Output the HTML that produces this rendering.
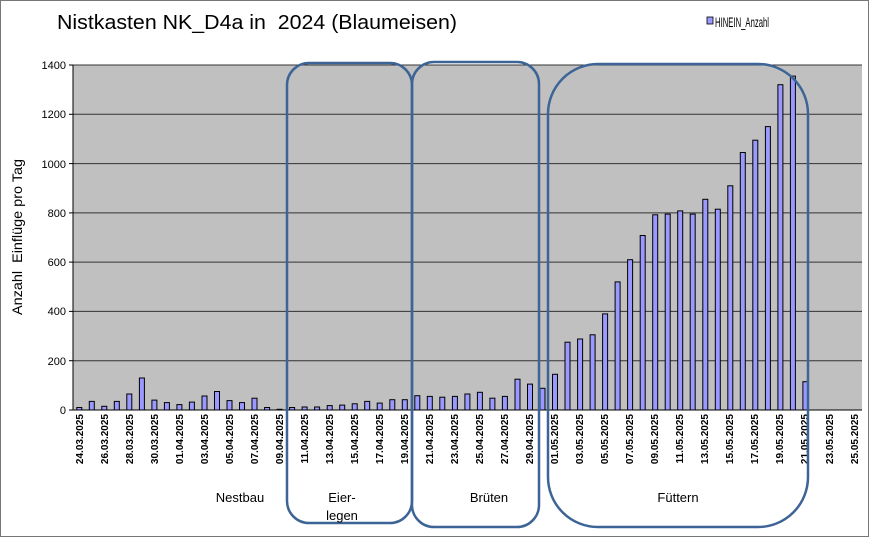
<!DOCTYPE html>
<html><head><meta charset="utf-8"><style>
html,body{margin:0;padding:0;background:#fff;}
svg{display:block;font-family:"Liberation Sans",Arial,sans-serif;}
</style></head><body>
<svg width="869" height="537" viewBox="0 0 869 537" xmlns="http://www.w3.org/2000/svg">
<rect x="0.5" y="0.5" width="868" height="536" fill="#fff" stroke="#777" stroke-width="1"/>
<text x="57" y="29" font-size="20" textLength="400" lengthAdjust="spacingAndGlyphs" fill="#000">Nistkasten NK_D4a in &#160;2024 (Blaumeisen)</text>
<rect x="707" y="17" width="6" height="7" fill="#9999ff" stroke="#000" stroke-width="0.8"/>
<text x="715" y="27" font-size="14" textLength="54" lengthAdjust="spacingAndGlyphs">HINEIN_Anzahl</text>
<rect x="73" y="65" width="789" height="345" fill="#c0c0c0"/>
<g stroke="#333" stroke-width="1">
<line x1="73" x2="862" y1="114.3" y2="114.3"/>
<line x1="73" x2="862" y1="163.6" y2="163.6"/>
<line x1="73" x2="862" y1="212.9" y2="212.9"/>
<line x1="73" x2="862" y1="262.1" y2="262.1"/>
<line x1="73" x2="862" y1="311.4" y2="311.4"/>
<line x1="73" x2="862" y1="360.7" y2="360.7"/>
<line x1="73" x2="862" y1="65" y2="65"/>
</g>
<line x1="73" x2="73" y1="65" y2="410" stroke="#000"/>
<line x1="73" x2="862" y1="410" y2="410" stroke="#000"/>
<g stroke="#000" stroke-width="1">
<line x1="69" x2="73" y1="65" y2="65"/><line x1="69" x2="73" y1="114.3" y2="114.3"/><line x1="69" x2="73" y1="163.6" y2="163.6"/><line x1="69" x2="73" y1="212.9" y2="212.9"/><line x1="69" x2="73" y1="262.1" y2="262.1"/><line x1="69" x2="73" y1="311.4" y2="311.4"/><line x1="69" x2="73" y1="360.7" y2="360.7"/><line x1="69" x2="73" y1="410" y2="410"/>
</g>
<g font-size="11" text-anchor="end" fill="#000">
<text x="66" y="69">1400</text><text x="66" y="118">1200</text><text x="66" y="168">1000</text><text x="66" y="217">800</text><text x="66" y="266">600</text><text x="66" y="315">400</text><text x="66" y="365">200</text><text x="66" y="414">0</text>
</g>
<text transform="translate(22,237) rotate(-90)" font-size="14" text-anchor="middle" textLength="156" lengthAdjust="spacingAndGlyphs">Anzahl&#160; Einflüge pro Tag</text>
<g fill="#9999ff" stroke="#000" stroke-width="1">
<rect x="76.8" y="407.5" width="5" height="2.5"/>
<rect x="89.3" y="401.4" width="5" height="8.6"/>
<rect x="101.8" y="406.3" width="5" height="3.7"/>
<rect x="114.3" y="401.4" width="5" height="8.6"/>
<rect x="126.8" y="394" width="5" height="16"/>
<rect x="139.4" y="378" width="5" height="32"/>
<rect x="151.9" y="400.1" width="5" height="9.9"/>
<rect x="164.4" y="402.6" width="5" height="7.4"/>
<rect x="176.9" y="404.6" width="5" height="5.4"/>
<rect x="189.4" y="402.1" width="5" height="7.9"/>
<rect x="202" y="396" width="5" height="14"/>
<rect x="214.5" y="391.5" width="5" height="18.5"/>
<rect x="227" y="400.6" width="5" height="9.4"/>
<rect x="239.5" y="402.6" width="5" height="7.4"/>
<rect x="252" y="398.2" width="5" height="11.8"/>
<rect x="264.6" y="407.5" width="5" height="2.5"/>
<rect x="277.1" y="409.3" width="5" height="0.7"/>
<rect x="289.6" y="407.5" width="5" height="2.5"/>
<rect x="302.1" y="407" width="5" height="3"/>
<rect x="314.6" y="407" width="5" height="3"/>
<rect x="327.2" y="405.6" width="5" height="4.4"/>
<rect x="339.7" y="405.1" width="5" height="4.9"/>
<rect x="352.2" y="403.8" width="5" height="6.2"/>
<rect x="364.7" y="401.4" width="5" height="8.6"/>
<rect x="377.2" y="403.1" width="5" height="6.9"/>
<rect x="389.8" y="399.7" width="5" height="10.3"/>
<rect x="402.3" y="399.7" width="5" height="10.3"/>
<rect x="414.8" y="395.7" width="5" height="14.3"/>
<rect x="427.3" y="396.4" width="5" height="13.6"/>
<rect x="439.8" y="397.2" width="5" height="12.8"/>
<rect x="452.4" y="396.4" width="5" height="13.6"/>
<rect x="464.9" y="394" width="5" height="16"/>
<rect x="477.4" y="392.3" width="5" height="17.7"/>
<rect x="489.9" y="398.2" width="5" height="11.8"/>
<rect x="502.4" y="396.4" width="5" height="13.6"/>
<rect x="515" y="379.2" width="5" height="30.8"/>
<rect x="527.5" y="384.1" width="5" height="25.9"/>
<rect x="540" y="388.3" width="5" height="21.7"/>
<rect x="552.5" y="374.3" width="5" height="35.7"/>
<rect x="565" y="342.2" width="5" height="67.8"/>
<rect x="577.6" y="339" width="5" height="71"/>
<rect x="590.1" y="334.8" width="5" height="75.2"/>
<rect x="602.6" y="313.9" width="5" height="96.1"/>
<rect x="615.1" y="281.9" width="5" height="128.1"/>
<rect x="627.6" y="259.7" width="5" height="150.3"/>
<rect x="640.2" y="235.5" width="5" height="174.5"/>
<rect x="652.7" y="214.8" width="5" height="195.2"/>
<rect x="665.2" y="214.1" width="5" height="195.9"/>
<rect x="677.7" y="210.9" width="5" height="199.1"/>
<rect x="690.2" y="214.1" width="5" height="195.9"/>
<rect x="702.8" y="199.3" width="5" height="210.7"/>
<rect x="715.3" y="209.2" width="5" height="200.8"/>
<rect x="727.8" y="185.8" width="5" height="224.2"/>
<rect x="740.3" y="152.5" width="5" height="257.5"/>
<rect x="752.8" y="140.2" width="5" height="269.8"/>
<rect x="765.4" y="126.6" width="5" height="283.4"/>
<rect x="777.9" y="84.7" width="5" height="325.3"/>
<rect x="790.4" y="76.1" width="5" height="333.9"/>
<rect x="802.9" y="381.7" width="5" height="28.3"/>
</g>
<g font-size="10" font-weight="bold" text-anchor="end">
<text transform="translate(83,414) rotate(-90)">24.03.2025</text>
<text transform="translate(108,414) rotate(-90)">26.03.2025</text>
<text transform="translate(133,414) rotate(-90)">28.03.2025</text>
<text transform="translate(158,414) rotate(-90)">30.03.2025</text>
<text transform="translate(183,414) rotate(-90)">01.04.2025</text>
<text transform="translate(208,414) rotate(-90)">03.04.2025</text>
<text transform="translate(233,414) rotate(-90)">05.04.2025</text>
<text transform="translate(258,414) rotate(-90)">07.04.2025</text>
<text transform="translate(283,414) rotate(-90)">09.04.2025</text>
<text transform="translate(308,414) rotate(-90)">11.04.2025</text>
<text transform="translate(333,414) rotate(-90)">13.04.2025</text>
<text transform="translate(358,414) rotate(-90)">15.04.2025</text>
<text transform="translate(383,414) rotate(-90)">17.04.2025</text>
<text transform="translate(408,414) rotate(-90)">19.04.2025</text>
<text transform="translate(433,414) rotate(-90)">21.04.2025</text>
<text transform="translate(458,414) rotate(-90)">23.04.2025</text>
<text transform="translate(483,414) rotate(-90)">25.04.2025</text>
<text transform="translate(508,414) rotate(-90)">27.04.2025</text>
<text transform="translate(533,414) rotate(-90)">29.04.2025</text>
<text transform="translate(558,414) rotate(-90)">01.05.2025</text>
<text transform="translate(583,414) rotate(-90)">03.05.2025</text>
<text transform="translate(608,414) rotate(-90)">05.05.2025</text>
<text transform="translate(633,414) rotate(-90)">07.05.2025</text>
<text transform="translate(658,414) rotate(-90)">09.05.2025</text>
<text transform="translate(683,414) rotate(-90)">11.05.2025</text>
<text transform="translate(708,414) rotate(-90)">13.05.2025</text>
<text transform="translate(733,414) rotate(-90)">15.05.2025</text>
<text transform="translate(758,414) rotate(-90)">17.05.2025</text>
<text transform="translate(783,414) rotate(-90)">19.05.2025</text>
<text transform="translate(808,414) rotate(-90)">21.05.2025</text>
<text transform="translate(833,414) rotate(-90)">23.05.2025</text>
<text transform="translate(858,414) rotate(-90)">25.05.2025</text>
</g>
<g fill="none" stroke="#3d6496" stroke-width="2.5">
<rect x="287" y="63" width="125" height="460" rx="22" ry="22"/>
<rect x="412" y="62" width="127" height="465" rx="22" ry="22"/>
<rect x="548" y="64" width="260" height="463" rx="50" ry="50"/>
</g>
<g font-size="13" text-anchor="middle">
<text x="240" y="502">Nestbau</text>
<text x="342" y="502">Eier-</text>
<text x="342" y="520">legen</text>
<text x="489" y="502">Brüten</text>
<text x="678" y="502">Füttern</text>
</g>
</svg>
</body></html>
